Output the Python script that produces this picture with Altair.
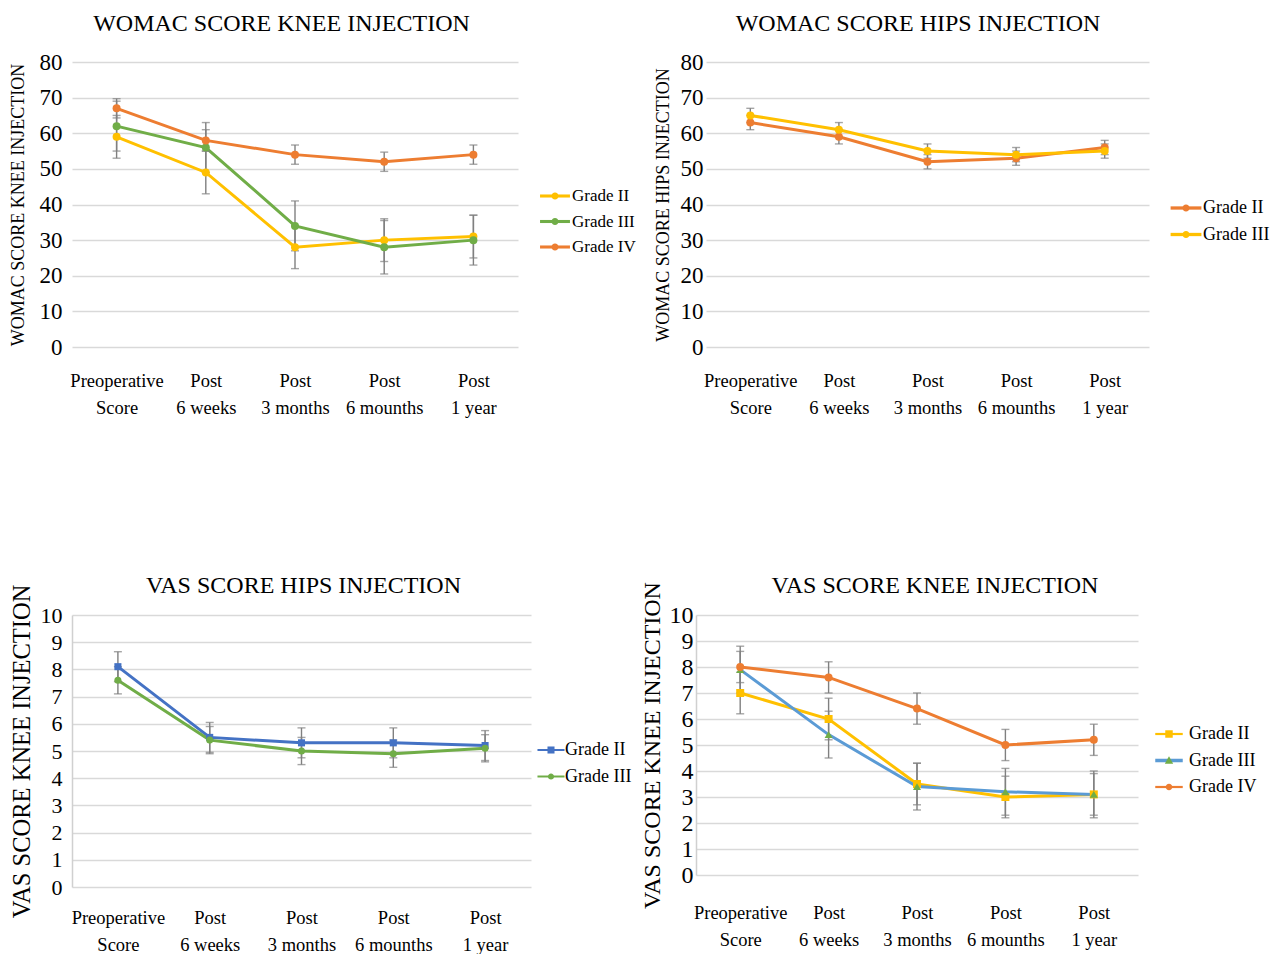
import altair as alt
import pandas as pd

FONT = "Liberation Serif"
GRAY = "#808080"

times = ["Preoperative\nScore", "Post\n6 weeks", "Post\n3 months", "Post\n6 mounths", "Post\n1 year"]

# ---- WOMAC knee ----
wk_title = "WOMAC SCORE KNEE INJECTION"
wk_grades = ["Grade II", "Grade III", "Grade IV"]
wk_g2 = [59, 49, 28, 30, 31]
wk_g3 = [62, 56, 34, 28, 30]
wk_g4 = [67, 58, 54, 52, 54]
wk_e2 = [6, 6, 6, 6, 6]
wk_e3 = [7, 7, 7, 7.5, 7]
wk_e4 = [2.7, 3, 2.7, 2.7, 2.7]

# ---- WOMAC hips ----
wh_title = "WOMAC SCORE HIPS INJECTION"
wh_grades = ["Grade II", "Grade III"]
wh_g2 = [63, 59, 52, 53, 56]
wh_g3 = [65, 61, 55, 54, 55]
wh_e2 = [2, 2, 2, 2, 2]
wh_e3 = [2, 2, 2, 2, 2]

# ---- VAS hips ----
vh_title = "VAS SCORE HIPS INJECTION"
vh_grades = ["Grade II", "Grade III"]
vh_g2 = [8.1, 5.5, 5.3, 5.3, 5.2]
vh_g3 = [7.6, 5.4, 5.0, 4.9, 5.1]
vh_e2 = [0.55, 0.55, 0.55, 0.55, 0.55]
vh_e3 = [0.5, 0.5, 0.5, 0.5, 0.5]

# ---- VAS knee ----
vk_title = "VAS SCORE KNEE INJECTION"
vk_grades = ["Grade II", "Grade III", "Grade IV"]
vk_g2 = [7.0, 6.0, 3.5, 3.0, 3.1]
vk_g3 = [7.9, 5.4, 3.4, 3.2, 3.1]
vk_g4 = [8.0, 7.6, 6.4, 5.0, 5.2]
vk_e2 = [0.8, 0.8, 0.8, 0.8, 0.8]
vk_e3 = [0.9, 0.9, 0.9, 0.9, 0.9]
vk_e4 = [0.6, 0.6, 0.6, 0.6, 0.6]

YELLOW = "#FFC000"
GREEN = "#70AD47"
ORANGE = "#ED7D31"
BLUE = "#4472C4"
LBLUE = "#5B9BD5"


def line_path(half_len, half_th):
    return f"M{-half_len},{-half_th}H{half_len}V{half_th}H{-half_len}Z"


def circle_path(r):
    return f"M{r},0A{r},{r} 0 1 1 {-r},0A{r},{r} 0 1 1 {r},0Z"


def square_path(s):
    return f"M{-s},{-s}H{s}V{s}H{-s}Z"


def triangle_path(h):
    return f"M0,{-h}L{h},{h*0.8}L{-h},{h*0.8}Z"


def panel(title, title_dx, title_offset, ytitle, grades, series, errs,
          line_colors, line_widths, marker_colors, marker_shapes, marker_size,
          leg_line_paths, leg_marker_paths, legend_x, legend_y, label_offset, leg_font,
          ymax, step, width, height, ylabel_size, ylabel_pad, ytitle_size,
          ytitle_pad, y_domain, xlabel_pad):
    rows = []
    for g, vals, es in zip(grades, series, errs):
        for t, v, e in zip(times, vals, es):
            rows.append({"time": t, "grade": g, "value": v, "lo": v - e, "hi": v + e})
    df = pd.DataFrame(rows)

    xenc = alt.X("time:N", sort=times, scale=alt.Scale(type="point", padding=0.5),
                 axis=alt.Axis(title=None, labelAngle=0, labelFont=FONT, labelFontSize=18.5,
                               labelColor="black", labelLineHeight=27, labelPadding=xlabel_pad,
                               labelExpr="split(datum.label, '\\n')", labelOverlap=False,
                               labelLimit=300, ticks=False, domain=False, grid=False))
    yaxis = alt.Axis(values=list(range(0, ymax + 1, step)), title=ytitle, titleFont=FONT,
                     titleFontSize=ytitle_size, titleFontWeight="normal", titleColor="black",
                     titlePadding=ytitle_pad, labelFont=FONT, labelFontSize=ylabel_size,
                     labelColor="black", labelPadding=ylabel_pad, ticks=False,
                     domain=y_domain, domainColor="#d0d0d0", domainWidth=1.5,
                     grid=True, gridColor="#d9d9d9", gridWidth=1.5)
    yscale = alt.Scale(domain=[0, ymax], nice=False)

    def yenc(field):
        return alt.Y(field, scale=yscale, axis=yaxis)

    base = alt.Chart(df)
    lines = base.mark_line().encode(
        x=xenc, y=yenc("value:Q"),
        color=alt.Color("grade:N", scale=alt.Scale(domain=grades, range=line_colors), legend=None),
        strokeWidth=alt.StrokeWidth("grade:N", scale=alt.Scale(domain=grades, range=line_widths), legend=None),
    )
    rules = base.mark_rule(color=GRAY, strokeWidth=1.4).encode(x=xenc, y=yenc("lo:Q"), y2="hi:Q")
    cap_lo = base.mark_tick(color=GRAY, thickness=1.4, size=8).encode(x=xenc, y=yenc("lo:Q"))
    cap_hi = base.mark_tick(color=GRAY, thickness=1.4, size=8).encode(x=xenc, y=yenc("hi:Q"))
    points = base.mark_point(filled=True, opacity=1, size=marker_size).encode(
        x=xenc, y=yenc("value:Q"),
        color=alt.Color("grade:N", scale=alt.Scale(domain=grades, range=marker_colors), legend=None),
        shape=alt.Shape("grade:N", scale=alt.Scale(domain=grades, range=marker_shapes), legend=None),
    )

    def legend(label_color):
        return alt.Legend(title=None, orient="none", legendX=legend_x, legendY=legend_y,
                          direction="vertical", labelFont=FONT, labelFontSize=leg_font,
                          labelColor=label_color, labelOffset=label_offset, symbolSize=484,
                          symbolStrokeWidth=0, symbolOpacity=1, rowPadding=6.5, padding=0)

    leg_df = pd.DataFrame({"grade": grades})
    leg_lines = alt.Chart(leg_df).transform_filter("false").mark_point(filled=True).encode(
        color=alt.Color("grade:N", scale=alt.Scale(domain=grades, range=line_colors),
                        legend=legend("rgba(0,0,0,0)")),
        shape=alt.Shape("grade:N", scale=alt.Scale(domain=grades, range=leg_line_paths),
                        legend=legend("rgba(0,0,0,0)")),
    )
    leg_marks = alt.Chart(leg_df).transform_filter("false").mark_point(filled=True).encode(
        color=alt.Color("grade:N", scale=alt.Scale(domain=grades, range=marker_colors),
                        legend=legend("black")),
        shape=alt.Shape("grade:N", scale=alt.Scale(domain=grades, range=leg_marker_paths),
                        legend=legend("black")),
    )
    return alt.layer(lines, rules, cap_lo, cap_hi, points, leg_lines, leg_marks).resolve_scale(
        color="independent", shape="independent"
    ).properties(
        width=width, height=height,
        title=alt.TitleParams(text=title, font=FONT, fontSize=24, fontWeight="normal",
                              color="black", offset=title_offset, dx=title_dx),
    )


p1 = panel(wk_title, -13.5, 15, "WOMAC SCORE KNEE INJECTION", wk_grades,
           [wk_g2, wk_g3, wk_g4], [wk_e2, wk_e3, wk_e4],
           [YELLOW, GREEN, ORANGE], [3, 3, 3], [YELLOW, GREEN, ORANGE],
           ["circle", "circle", "circle"], 64,
           [line_path(1.36, 0.14)] * 3, [circle_path(0.32)] * 3,
           472, 123, 6, 17, 80, 10, 446, 285, 23, 10, 18, 12, False, 24)

p2 = panel(wh_title, -9.5, 15, "WOMAC SCORE HIPS INJECTION", wh_grades,
           [wh_g2, wh_g3], [wh_e2, wh_e3],
           [ORANGE, YELLOW], [3.5, 3.5], [ORANGE, YELLOW],
           ["circle", "circle"], 64,
           [line_path(1.4, 0.15)] * 2, [circle_path(0.32)] * 2,
           469, 135, 6, 18, 80, 10, 443, 285, 23, 3, 18, 8, False, 24)

p3 = panel(vh_title, 2, -14, "VAS SCORE KNEE INJECTION", vh_grades,
           [vh_g2, vh_g3], [vh_e2, vh_e3],
           [BLUE, GREEN], [2, 2], [BLUE, GREEN],
           ["square", "circle"], 50,
           [line_path(1.23, 0.09)] * 2, [square_path(0.32), circle_path(0.28)],
           468, 124, 3, 18, 10, 1, 459, 272, 22, 10, 24.5, 6, True, 21)

p4 = panel(vk_title, 18, -16, "VAS SCORE KNEE INJECTION", vk_grades,
           [vk_g2, vk_g3, vk_g4], [vk_e2, vk_e3, vk_e4],
           [YELLOW, LBLUE, ORANGE], [2, 3.5, 2], [YELLOW, GREEN, ORANGE],
           ["square", "triangle-up", "circle"], 64,
           [line_path(1.25, 0.1), line_path(1.25, 0.16), line_path(1.25, 0.1)],
           [square_path(0.34), triangle_path(0.38), circle_path(0.3)],
           462, 108, 9, 18, 10, 1, 442, 260, 24, 3, 24, 5, True, 28)

chart = alt.vconcat(
    alt.hconcat(p1, p2, spacing=17),
    alt.hconcat(p3, p4, spacing=7),
    spacing=156,
).configure(font=FONT).configure_view(stroke=None).properties(
    padding={"left": 0, "top": 4, "right": 0, "bottom": 0}
)

chart.save("out.html", embed_options={"renderer": "svg", "actions": False})
